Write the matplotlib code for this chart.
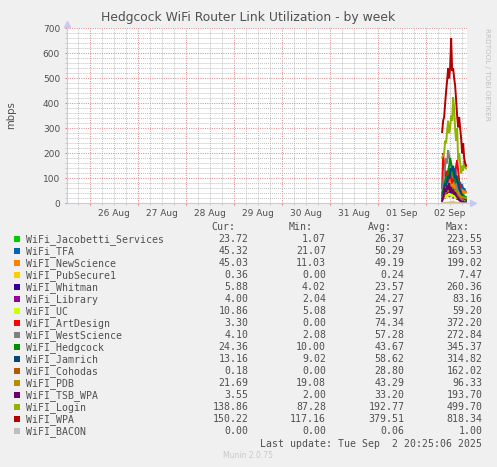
import pandas as pd
import matplotlib
matplotlib.use("Agg")
import matplotlib.pyplot as plt
import matplotlib.dates as mdates
from matplotlib.ticker import MultipleLocator, FuncFormatter
from matplotlib.patches import Rectangle

W, H = 497, 467

# --- data (sampled every 30 min on 2 Sep, 08:00 - 20:00) ---
times = pd.date_range("2025-09-02 08:00", "2025-09-02 20:00", freq="30min")

names = ["WiFi_Jacobetti_Services", "WiFi_TFA", "WiFI_NewScience", "WiFI_PubSecure1",
         "WiFI_Whitman", "WiFi_Library", "WiFI_UC", "WiFI_ArtDesign", "WiFI_WestScience",
         "WiFI_Hedgcock", "WiFI_Jamrich", "WiFI_Cohodas", "WiFI_PDB", "WiFI_TSB_WPA",
         "WiFI_Login", "WiFI_WPA", "WiFI_BACON"]
colors = ["#00CC00", "#0066B3", "#FF8000", "#FFCC00", "#330099", "#990099", "#CCFF00",
          "#FF0000", "#808080", "#008F00", "#00487D", "#B35A00", "#B38F00", "#6B006B",
          "#8FB300", "#B30000", "#BEBEBE"]

jacobetti = [30, 45, 60, 80, 55, 90, 70, 110, 60, 85, 95, 70, 60, 80, 50, 65, 40, 55, 35, 45, 30, 40, 28, 25, 23.72]
tfa = [40, 55, 70, 60, 85, 100, 75, 120, 90, 110, 130, 95, 80, 140, 100, 90, 110, 70, 85, 60, 75, 55, 60, 50, 45.32]
newscience = [30, 50, 40, 65, 55, 80, 60, 70, 95, 75, 60, 85, 70, 60, 75, 55, 65, 50, 60, 45, 55, 40, 50, 42, 45.03]
pubsecure = [0.2, 0.5, 1, 2, 1.5, 3, 2, 4, 2.5, 5, 3, 7, 4, 2, 3, 1.5, 1, 2, 0.8, 0.5, 0.6, 0.4, 0.3, 0.4, 0.36]
whitman = [20, 35, 50, 30, 60, 45, 70, 40, 55, 35, 60, 30, 45, 25, 40, 20, 30, 15, 20, 10, 12, 8, 7, 6, 5.88]
library = [15, 25, 35, 20, 45, 30, 50, 25, 40, 30, 45, 20, 35, 25, 30, 15, 20, 12, 10, 8, 6, 5, 4.5, 4, 4.0]
uc = [15, 20, 25, 30, 22, 35, 28, 40, 30, 38, 25, 33, 28, 22, 30, 20, 25, 18, 15, 14, 12, 11, 12, 11, 10.86]
artdesign = [60, 200, 150, 120, 100, 130, 90, 110, 140, 100, 80, 120, 90, 110, 150, 172, 130, 90, 60, 40, 20, 10, 5, 4, 3.3]
westscience = [40, 80, 120, 150, 180, 160, 212, 190, 170, 140, 120, 100, 110, 90, 70, 60, 50, 40, 30, 20, 10, 6, 5, 4, 4.1]
hedgcock = [30, 50, 70, 90, 110, 100, 130, 150, 180, 160, 140, 120, 100, 90, 80, 110, 70, 60, 50, 40, 35, 30, 28, 26, 24.36]
jamrich = [20, 40, 60, 80, 70, 90, 110, 100, 120, 140, 130, 150, 120, 100, 110, 90, 80, 60, 50, 40, 30, 25, 20, 15, 13.16]
cohodas = [10, 20, 30, 50, 40, 60, 45, 70, 55, 65, 50, 60, 45, 55, 40, 35, 30, 20, 15, 10, 5, 2, 1, 0.5, 0.18]
pdb = [25, 30, 40, 50, 45, 55, 60, 50, 65, 55, 60, 50, 55, 45, 50, 40, 45, 35, 30, 28, 25, 24, 22, 23, 21.69]
tsb_wpa = [10, 25, 40, 60, 45, 70, 55, 80, 50, 65, 40, 55, 35, 45, 30, 25, 20, 15, 10, 8, 6, 5, 4, 3.8, 3.55]
login = [184, 190, 200, 250, 240, 292, 330, 280, 300, 350, 330, 424, 380, 292, 250, 300, 172, 200, 160, 120, 150, 130, 170, 145, 138.86]
wpa = [285, 330, 345, 400, 450, 492, 540, 500, 545, 660, 530, 540, 500, 470, 412, 350, 304, 345, 300, 260, 200, 240, 180, 160, 150.22]
bacon = [0, 0, 0, 0, 0, 0, 0, 0.1, 0, 0, 0, 0.2, 0, 0, 0, 0, 0, 0, 0, 0, 0, 0, 0, 0, 0]

series = [jacobetti, tfa, newscience, pubsecure, whitman, library, uc, artdesign,
          westscience, hedgcock, jamrich, cohodas, pdb, tsb_wpa, login, wpa, bacon]

cur = ["23.72", "45.32", "45.03", "0.36", "5.88", "4.00", "10.86", "3.30", "4.10",
       "24.36", "13.16", "0.18", "21.69", "3.55", "138.86", "150.22", "0.00"]
mins = ["1.07", "21.07", "11.03", "0.00", "4.02", "2.04", "5.08", "0.00", "2.08",
        "10.00", "9.02", "0.00", "19.08", "2.00", "87.28", "117.16", "0.00"]
avgs = ["26.37", "50.29", "49.19", "0.24", "23.57", "24.27", "25.97", "74.34", "57.28",
        "43.67", "58.62", "28.80", "43.29", "33.20", "192.77", "379.51", "0.06"]
maxs = ["223.55", "169.53", "199.02", "7.47", "260.36", "83.16", "59.20", "372.20", "272.84",
        "345.37", "314.82", "162.02", "96.33", "193.70", "499.70", "818.34", "1.00"]

t_start = pd.Timestamp("2025-08-25 12:25")
t_end = pd.Timestamp("2025-09-02 20:25")

BG = "#f0f0f0"
TXT = "#505050"
AXC = "#c8c8f0"


def fx(px):
    return px / W


def fy(py):
    return 1 - py / H


fig = plt.figure(figsize=(W / 100, H / 100), dpi=100, facecolor=BG)
ax = fig.add_axes([fx(66.7), fy(203.3), (467 - 66.7) / W, 175 / H])
ax.set_facecolor("white")

for s, c in zip(series, colors):
    ax.plot(times, s, color=c, lw=1.4, solid_joinstyle="miter")

ax.set_xlim(t_start, t_end)
ax.set_ylim(0, 700)

# grid like rrdtool
ax.xaxis.set_major_locator(mdates.DayLocator())
ax.xaxis.set_major_formatter(FuncFormatter(lambda v, p: ""))
ax.xaxis.set_minor_locator(mdates.HourLocator(byhour=[6, 12, 18]))
ax.xaxis.set_minor_formatter(FuncFormatter(
    lambda v, p: mdates.num2date(v).strftime("%d %b") if mdates.num2date(v).hour == 12 else ""))
ax.yaxis.set_major_locator(MultipleLocator(100))
ax.yaxis.set_minor_locator(MultipleLocator(20))

ax.grid(which="major", color="#e09090", linestyle=(0, (1, 1.2)), lw=0.75)
ax.grid(which="minor", color="#b8b8b8", linestyle=(0, (1, 1.2)), lw=0.65)
ax.set_axisbelow(True)

ax.tick_params(which="major", axis="x", length=1.5, color="#e08080", labelsize=6.5)
ax.tick_params(which="minor", axis="x", length=1.5, color="#c0c0c0", pad=2.8,
               labelsize=6.5, labelcolor=TXT)
ax.tick_params(which="major", axis="y", length=1.5, color="#e08080", pad=3.3,
               labelsize=6.5, labelcolor=TXT)
ax.tick_params(which="minor", axis="y", length=1.5, color="#c0c0c0")

for sp in ["top", "right"]:
    ax.spines[sp].set_visible(False)
for sp in ["left", "bottom"]:
    ax.spines[sp].set_color(AXC)
    ax.spines[sp].set_linewidth(0.8)

# axis arrows
ax.plot([1, 1.012], [0, 0], color=AXC, lw=0.8, transform=ax.transAxes, clip_on=False)
ax.plot([0, 0], [1, 1.02], color=AXC, lw=0.8, transform=ax.transAxes, clip_on=False)
ax.plot([1.014], [0], marker=">", ms=4, color=AXC, transform=ax.transAxes, clip_on=False)
ax.plot([0], [1.025], marker="^", ms=4, color=AXC, transform=ax.transAxes, clip_on=False)

fig.text(fx(248), fy(18), "Hedgcock WiFi Router Link Utilization - by week",
         ha="center", va="center", fontsize=8.9, color=TXT)
fig.text(fx(11), fy(115), "mbps", rotation=90, ha="center", va="center",
         fontsize=7.3, color=TXT)
fig.text(fx(487), fy(28), "RRDTOOL / TOBI OETIKER", rotation=270, ha="center", va="top",
         fontsize=5.2, color="#c0c0c0")

# legend
mono = "DejaVu Sans Mono"
LS = 7.1
for hx, lab in zip([235, 313, 392, 470], ["Cur:", "Min:", "Avg:", "Max:"]):
    fig.text(fx(hx), fy(227.5), lab, ha="right", va="center", family=mono, fontsize=LS, color=TXT)

for i, (n, c) in enumerate(zip(names, colors)):
    y = 239.3 + 12 * i
    fig.add_artist(Rectangle((fx(14), fy(y + 3)), 6 / W, 6 / H, transform=fig.transFigure,
                             facecolor=c, edgecolor="none"))
    fig.text(fx(26), fy(y), n, ha="left", va="center", family=mono, fontsize=LS, color=TXT)
    for cx, val in zip([248.3, 326, 404.3, 482.3], [cur[i], mins[i], avgs[i], maxs[i]]):
        fig.text(fx(cx), fy(y), val, ha="right", va="center", family=mono, fontsize=LS, color=TXT)

fig.text(fx(482.3), fy(443.7), "Last update: Tue Sep  2 20:25:06 2025", ha="right", va="center",
         family=mono, fontsize=LS, color=TXT)
fig.text(fx(248), fy(456), "Munin 2.0.75", ha="center", va="center", fontsize=5.5, color="#c8c8c8")

fig.savefig("out.png", dpi=100, facecolor=BG)
